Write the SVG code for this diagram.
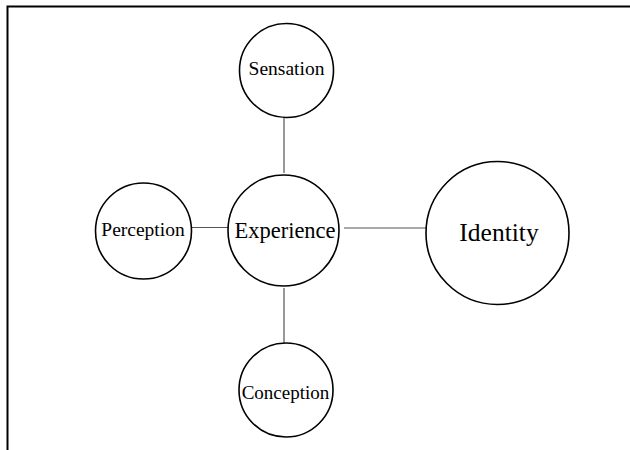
<svg xmlns="http://www.w3.org/2000/svg" width="630" height="450" viewBox="0 0 630 450">
<style>
.node{fill:#fff;stroke:#000;stroke-width:1.6}
.lbl{font-family:"Liberation Serif","Times New Roman",serif;fill:#000;text-anchor:middle}
.edge{stroke:#555;stroke-width:1.2;fill:none}
</style>
<rect width="630" height="450" fill="#fff"/>
<path d="M7.5,450 V6.5 H630" fill="none" stroke="#000" stroke-width="2"/>
<g id="connectors">
<line class="edge" x1="284" y1="118" x2="284" y2="173"/>
<line class="edge" x1="192" y1="227.5" x2="228" y2="227.5"/>
<line class="edge" x1="344" y1="228" x2="426" y2="228"/>
<line class="edge" x1="284" y1="288" x2="284" y2="343"/>
</g>
<g id="sensation"><circle class="node" cx="286.5" cy="70.5" r="47"/><text class="lbl" x="286.5" y="74.5" font-size="19.5">Sensation</text></g>
<g id="experience"><circle class="node" cx="283.5" cy="230.5" r="55.5"/><text class="lbl" x="285" y="237.5" font-size="22.5">Experience</text></g>
<g id="perception"><circle class="node" cx="143.5" cy="231" r="48"/><text class="lbl" x="143" y="235.5" font-size="19.5">Perception</text></g>
<g id="identity"><circle class="node" cx="497.5" cy="233" r="71.5"/><text class="lbl" x="499" y="241" font-size="25.5">Identity</text></g>
<g id="conception"><circle class="node" cx="286" cy="390" r="47"/><text class="lbl" x="285.5" y="399" font-size="19">Conception</text></g>
</svg>
